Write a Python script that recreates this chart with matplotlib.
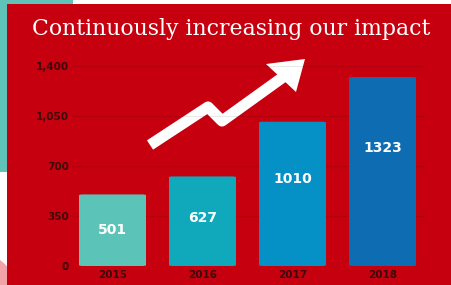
import matplotlib
matplotlib.use('Agg')
import matplotlib.pyplot as plt
import numpy as np
from matplotlib.patches import Rectangle, FancyBboxPatch, Polygon, Wedge

years = ['2015', '2016', '2017', '2018']
impact = [501, 627, 1010, 1323]
bar_colors = ['#5cc3b8', '#0fa9bb', '#0591c5', '#0e6db2']
yticks = [0, 350, 700, 1050, 1400]
title = 'Continuously increasing our impact'

red = '#c6000e'
W, H = 451, 285

fig = plt.figure(figsize=(W / 100, H / 100), dpi=100, facecolor='white')

# background decoration in pixel coords
bg = fig.add_axes([0, 0, 1, 1])
bg.set_xlim(0, W)
bg.set_ylim(H, 0)
bg.axis('off')
bg.add_patch(Rectangle((0, 0), 73, 172, color='#5fc3ba', lw=0))
bg.add_patch(Wedge((-30, 300), 50, 270, 90, color='#f2a3a8', lw=0))
bg.add_patch(Rectangle((7, 4), W - 7, H - 4, color=red, lw=0))
bg.text(231, 29, title, color='white', fontsize=15.8, family='DejaVu Serif',
        ha='center', va='center')

# zigzag arrow
bg.plot([150, 208, 222, 286], [145, 107, 121, 75], color='white', lw=8,
        solid_capstyle='butt', solid_joinstyle='round')
bg.add_patch(Polygon([(305, 59), (266, 64), (296, 92)], closed=True,
                     color='white', lw=0))

ax = fig.add_axes([73 / W, 19 / H, 352 / W, 200 / H])
ax.patch.set_alpha(0)
x = np.arange(len(years))
ax.set_xlim((73 - 112.5) / 90, (425 - 112.5) / 90)
ax.set_ylim(0, 1400)

bars = ax.bar(x, impact, width=0.745, color=bar_colors, zorder=2)
for b, c in zip(bars, bar_colors):
    b.set_visible(False)
    ax.add_patch(FancyBboxPatch((b.get_x(), b.get_y()), b.get_width(), b.get_height(),
                                boxstyle='round,pad=0,rounding_size=0.04',
                                mutation_aspect=160, color=c, lw=0, zorder=2))

for xi, v in zip(x, impact):
    ax.text(xi, v * 0.7 - 100, str(v), color='white', fontsize=10,
            fontweight='bold', ha='center', va='center', zorder=3)

ax.set_yticks(yticks)
ax.set_yticklabels(['{:,}'.format(t) for t in yticks])
ax.set_xticks(x)
ax.set_xticklabels(years)
ax.tick_params(length=0, colors='#3a0a0a', labelsize=7.5)
ax.tick_params(axis='y', pad=3)
ax.tick_params(axis='x', pad=3)
for lab in ax.get_xticklabels() + ax.get_yticklabels():
    lab.set_fontweight('bold')
ax.grid(axis='y', color='black', alpha=0.09, lw=0.8, zorder=1)
for s in ax.spines.values():
    s.set_visible(False)

fig.savefig('out.png', dpi=100, facecolor='white')
